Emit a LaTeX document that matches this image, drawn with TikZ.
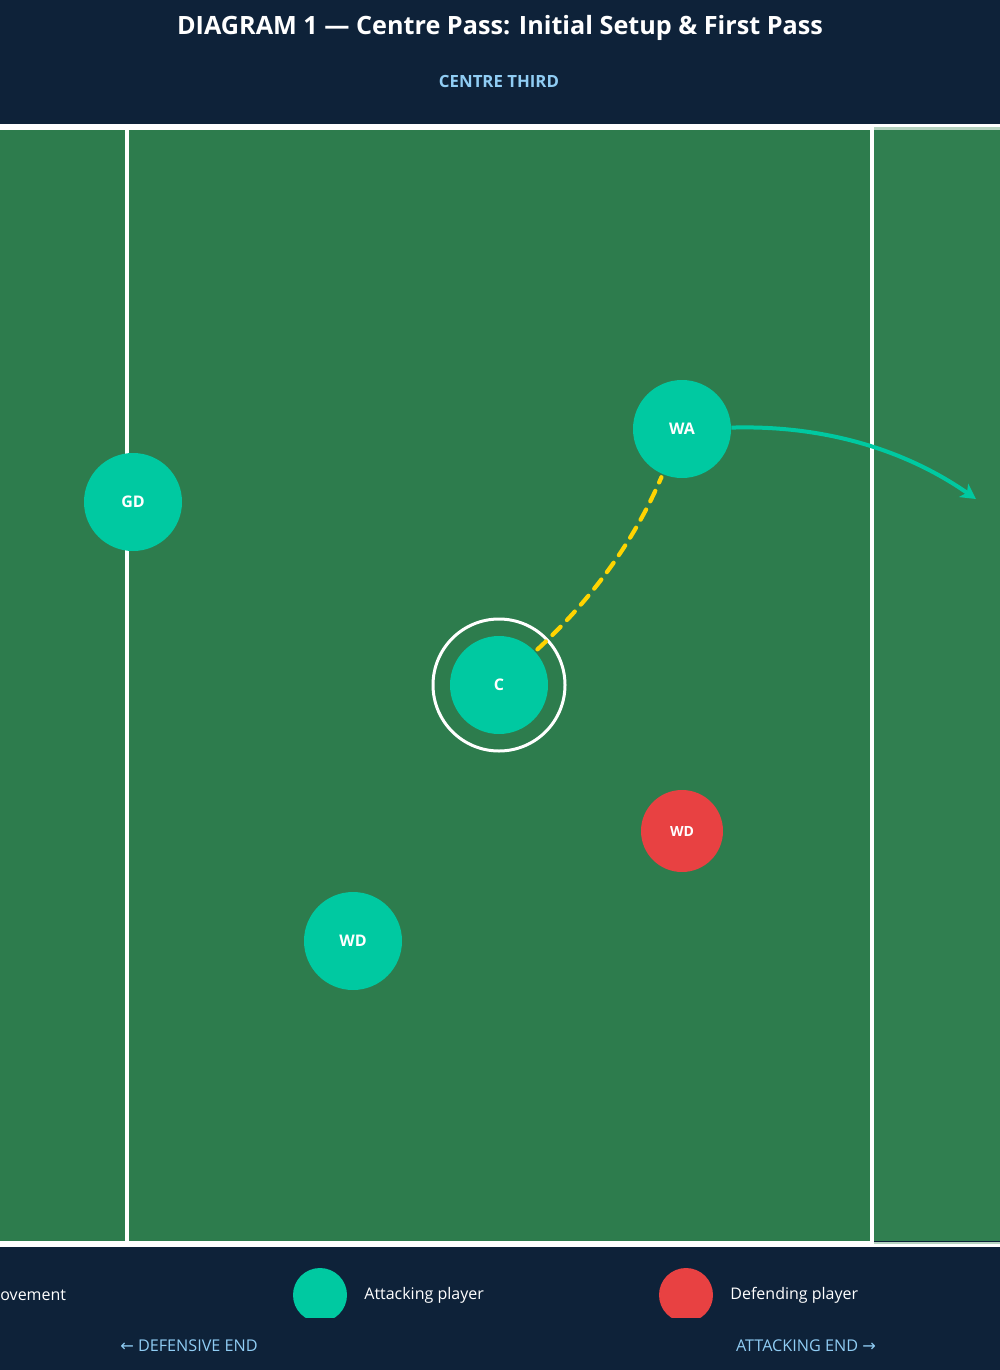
\documentclass[tikz,border=0pt]{standalone}
\usepackage{fontspec}
\setmainfont{Open Sans}
\newfontfamily\arrowfont{DejaVu Sans}
\usetikzlibrary{positioning, arrows.meta}
\definecolor{navy}{HTML}{0E2239}
\definecolor{court}{HTML}{2D7C4D}
\definecolor{courtR}{HTML}{307F50}
\definecolor{pale}{HTML}{B5D3C0}
\definecolor{attack}{HTML}{00C9A1}
\definecolor{defend}{HTML}{E84142}
\definecolor{ball}{HTML}{FFD400}
\definecolor{label}{HTML}{90CDF4}
\tikzset{
    >={Stealth[length=7.5pt, width=8pt, inset=2pt]}, % arrow heads
    attacker/.style={circle, fill=attack, minimum size=49pt, inner sep=0pt, text=white, font=\bfseries\fontsize{8}{9}\selectfont}, % attacking player
    defender/.style={circle, fill=defend, minimum size=41pt, inner sep=0pt, text=white, font=\bfseries\fontsize{7}{8}\selectfont}, % defending player
    pass/.style={draw=ball, line width=2.1pt, line cap=round, dash pattern=on 5.8pt off 4.6pt}, % ball pass
    run/.style={->, draw=attack, line width=2pt}, % player movement
    legendtext/.style={text=white, font=\fontsize{8}{10}\selectfont},
    endtext/.style={text=label, font=\fontsize{8.1}{10}\selectfont},
}
\begin{document}
\begin{tikzpicture}[x=0.5pt, y=-0.5pt]
    \useasboundingbox (0,0) rectangle (1000,1370);
    \clip (0,0) rectangle (1000,1370);
    % background and court
    \fill[navy] (0,0) rectangle (1000,1370);
    \fill[court] (0,130) rectangle (1000,1241);
    \fill[courtR] (874,130) rectangle (1000,1241);
    \fill[white] (0,124) rectangle (874,130);
    \fill[white] (874,124) rectangle (1000,127);
    \fill[pale] (874,127) rectangle (1000,130);
    \fill[white] (0,1241) rectangle (874,1247);
    \fill[pale] (874,1242) rectangle (1000,1244);
    \fill[white] (874,1244) rectangle (1000,1247);
    \fill[white] (125,130) rectangle (129,1241);
    \fill[white] (870,124) rectangle (874,1247);
    % headings
    \node[text=white, font=\bfseries\fontsize{12.6}{15}\selectfont] (title) at (500,28) {DIAGRAM 1 — Centre Pass: Initial Setup \& First Pass};
    \node[text=label, font=\bfseries\fontsize{8.4}{10}\selectfont] (third) at (499,82) {CENTRE THIRD};
    % players
    \node[attacker] (gd) at (133,502) {GD};
    \node[attacker] (wa) at (682,429) {WA};
    \node[attacker] (c) at (499,685) {C};
    \draw[white, line width=1.5pt] (c) circle[radius=33pt];
    \node[attacker] (wd) at (353,941) {WD};
    \node[defender] (wdd) at (682,831) {WD};
    % pass and movement
    \coordinate (waend) at (976,499);
    \draw[pass, shorten <=1.5pt, shorten >=1.5pt] (c) .. controls (594,597) and (635,539) .. (wa);
    \draw[run] (wa) .. controls (823,425) and (904,449) .. (waend);
    % legend
    \node[legendtext, anchor=west, inner sep=0pt] (leg0) at (0,1295) {ovement};
    \begin{scope}
        \clip (0,1260) rectangle (1000,1317);
        \fill[attack] (320,1295) circle[radius=13.5pt];
        \fill[defend] (686,1295) circle[radius=13.5pt];
    \end{scope}
    \node[legendtext, anchor=west, inner sep=0pt] (leg1) at (364,1295) {Attacking player};
    \node[legendtext, anchor=west, inner sep=0pt] (leg2) at (730,1295) {Defending player};
    \node[endtext] (defend) at (189,1346) {{\arrowfont ←} DEFENSIVE END};
    \node[endtext] (attackend) at (806,1346) {ATTACKING END {\arrowfont →}};
\end{tikzpicture}
\end{document}
